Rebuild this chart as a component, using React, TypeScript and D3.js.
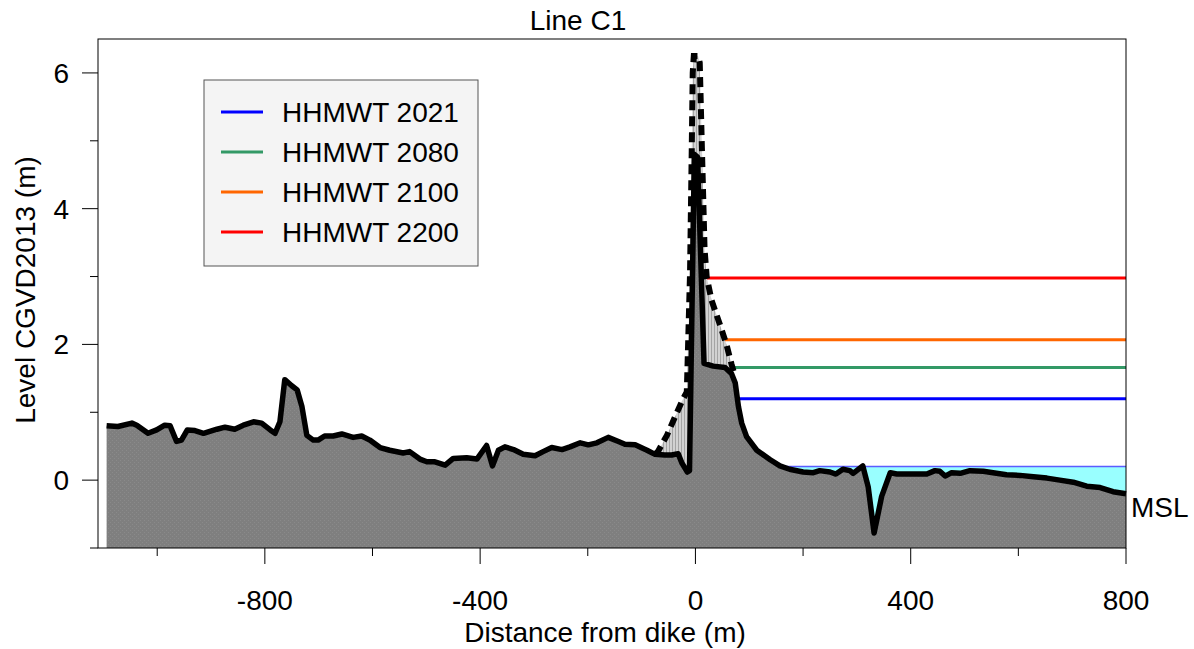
import React from "react";
import * as d3 from "d3";

// Ground profile along Line C1: [distance from dike (m), level (m CGVD2013)]
const profileExisting: [number, number][] = [
  [-1094, 0.8], [-1073, 0.79], [-1047, 0.84], [-1038, 0.81], [-1017, 0.69], [-1001, 0.74],
  [-986, 0.81], [-976, 0.8], [-964, 0.57], [-955, 0.59], [-944, 0.74], [-930, 0.73],
  [-914, 0.69], [-889, 0.75], [-874, 0.78], [-856, 0.75], [-840, 0.81], [-821, 0.86],
  [-806, 0.84], [-790, 0.74], [-781, 0.69], [-772, 0.86], [-763, 1.48], [-750, 1.39],
  [-740, 1.33], [-731, 1.08], [-722, 0.66], [-710, 0.59], [-701, 0.59], [-689, 0.65],
  [-673, 0.65], [-657, 0.68], [-636, 0.63], [-620, 0.65], [-605, 0.59], [-586, 0.48],
  [-568, 0.44], [-543, 0.4], [-531, 0.42], [-512, 0.31], [-499, 0.27], [-484, 0.27],
  [-465, 0.22], [-450, 0.32], [-425, 0.33], [-406, 0.31], [-388, 0.51], [-377, 0.21],
  [-366, 0.44], [-354, 0.49], [-338, 0.45], [-320, 0.38], [-298, 0.36], [-283, 0.42],
  [-267, 0.48], [-248, 0.45], [-233, 0.49], [-214, 0.55], [-199, 0.52], [-183, 0.55],
  [-162, 0.63], [-143, 0.57], [-131, 0.53], [-112, 0.52], [-90, 0.44], [-75, 0.38],
  [-57, 0.37], [-44, 0.37], [-32, 0.39], [-25, 0.25], [-15, 0.12], [-11, 0.14],
  [-2, 4.8], [4, 4.76], [16, 1.72], [33, 1.68], [55, 1.66], [67, 1.57], [74, 1.43],
  [80, 1.08], [86, 0.84], [95, 0.64], [114, 0.44], [139, 0.3], [157, 0.21], [175, 0.16],
  [200, 0.12], [219, 0.11], [231, 0.14], [250, 0.12], [261, 0.09], [274, 0.16],
  [287, 0.14], [293, 0.1], [311, 0.21], [321, -0.1], [332, -0.78], [346, -0.24],
  [362, 0.11], [374, 0.09], [393, 0.09], [430, 0.09], [445, 0.14], [454, 0.13],
  [464, 0.06], [476, 0.11], [492, 0.1], [510, 0.14], [535, 0.13], [553, 0.11],
  [578, 0.08], [603, 0.07], [628, 0.05], [653, 0.03], [677, 0.0], [702, -0.03],
  [727, -0.09], [752, -0.11], [776, -0.17], [800, -0.2],
];

// Dike crest profile (dashed)
const profileDike: [number, number][] = [
  [-75, 0.38], [-69, 0.43], [-53, 0.66], [-38, 0.93], [-24, 1.18], [-16, 1.3],
  [-10, 3.05], [-7, 4.77], [-5, 6.0], [-3, 6.25], [5, 6.25], [8, 6.15], [12, 4.9],
  [17, 3.4], [21, 2.99], [30, 2.65], [46, 2.28], [58, 1.99], [67, 1.71], [71, 1.6],
];

// Water levels
const levelNames = ["HHMWT 2021", "HHMWT 2080", "HHMWT 2100", "HHMWT 2200"];
const levelValues = [1.2, 1.66, 2.07, 2.98];
const levelColors = ["#0000ff", "#339966", "#ff6600", "#ff0000"];
const mslLevel = 0.2;

const xMajorTicks = [-800, -400, 0, 400, 800];
const xMinorTicks = [-1000, -600, -200, 200, 600];
const yMajorTicks = [0, 2, 4, 6];
const yMinorTicks = [-1, 1, 3, 5];

const left = 98, right = 1126, top = 39, bottom = 548;
const x = d3.scaleLinear().domain([-1110, 800]).range([left, right]);
const y = d3.scaleLinear().domain([-1, 6.5]).range([bottom, top]);

function valueAt(p: [number, number][], d: number): number | null {
  if (d < p[0][0] || d > p[p.length - 1][0]) return null;
  for (let i = 1; i < p.length; i++) {
    if (d <= p[i][0]) {
      const [x0, y0] = p[i - 1];
      const [x1, y1] = p[i];
      return y0 + ((y1 - y0) * (d - x0)) / (x1 - x0);
    }
  }
  return null;
}

// First distance seaward of the crest where the ground drops below a level
function seawardCrossing(level: number): number {
  for (let d = 0; d <= 800; d += 0.1) {
    const a = valueAt(profileExisting, d) ?? -10;
    const b = valueAt(profileDike, d) ?? -10;
    if (Math.max(a, b) < level) return d;
  }
  return 800;
}

export default function App() {
  const groundArea = d3
    .area<[number, number]>()
    .x((d) => x(d[0]))
    .y0(y(-1))
    .y1((d) => y(d[1]));
  const line = d3
    .line<[number, number]>()
    .x((d) => x(d[0]))
    .y((d) => y(d[1]));

  const mslStart = seawardCrossing(mslLevel);
  const font = "Liberation Sans, Arial, sans-serif";
  const fs = 28;

  return (
    <svg
      width={1194}
      height={649}
      style={{ position: "absolute", left: 0, top: 0, background: "#fff" }}
      fontFamily={font}
    >
      <defs>
        <pattern id="groundTex" width={4} height={4} patternUnits="userSpaceOnUse">
          <rect width={4} height={4} fill="#7f7f7f" />
          <rect x={0} y={0} width={1} height={1} fill="#8a8a8a" />
          <rect x={2} y={2} width={1} height={1} fill="#8a8a8a" />
        </pattern>
        <pattern id="dikeTex" width={3} height={3} patternUnits="userSpaceOnUse">
          <rect width={3} height={3} fill="#d2d2d2" />
          <rect x={0} y={0} width={1} height={3} fill="#a4a4a4" />
        </pattern>
      </defs>

      {/* water below MSL */}
      <rect
        x={x(mslStart)}
        y={y(mslLevel)}
        width={x(800) - x(mslStart)}
        height={y(-1) - y(mslLevel)}
        fill="#99ffff"
      />

      {/* dike fill, then ground fill */}
      <path d={groundArea(profileDike) ?? ""} fill="url(#dikeTex)" />
      <path d={groundArea(profileExisting) ?? ""} fill="url(#groundTex)" />

      {/* MSL line */}
      <line
        x1={x(mslStart)}
        x2={x(800)}
        y1={y(mslLevel)}
        y2={y(mslLevel)}
        stroke="#5c5cff"
        strokeWidth={1.5}
      />

      {/* water level lines */}
      {levelValues.map((v, i) => (
        <line
          key={levelNames[i]}
          x1={x(seawardCrossing(v))}
          x2={x(800)}
          y1={y(v)}
          y2={y(v)}
          stroke={levelColors[i]}
          strokeWidth={3}
        />
      ))}

      {/* profiles */}
      <path
        d={line(profileDike) ?? ""}
        fill="none"
        stroke="#000"
        strokeWidth={6}
        strokeDasharray="10,6"
      />
      <path
        d={line(profileExisting) ?? ""}
        fill="none"
        stroke="#000"
        strokeWidth={5.5}
        strokeLinejoin="round"
      />

      {/* frame */}
      <rect x={left} y={top} width={right - left} height={bottom - top} fill="none" stroke="#000" strokeWidth={1} />

      {/* y axis ticks */}
      {yMajorTicks.map((t) => (
        <g key={"ym" + t}>
          <line x1={left - 16} x2={left} y1={y(t)} y2={y(t)} stroke="#000" />
          <text x={left - 29} y={y(t) + 10} fontSize={fs} textAnchor="end">
            {t}
          </text>
        </g>
      ))}
      {yMinorTicks.map((t) => (
        <line key={"yn" + t} x1={left - 8} x2={left} y1={y(t)} y2={y(t)} stroke="#000" />
      ))}

      {/* x axis ticks */}
      {xMajorTicks.map((t) => (
        <g key={"xm" + t}>
          <line x1={x(t)} x2={x(t)} y1={bottom} y2={bottom + 16} stroke="#000" />
          <text x={x(t)} y={610} fontSize={fs} textAnchor="middle">
            {t}
          </text>
        </g>
      ))}
      {xMinorTicks.map((t) => (
        <line key={"xn" + t} x1={x(t)} x2={x(t)} y1={bottom} y2={bottom + 8} stroke="#000" />
      ))}

      {/* labels */}
      <text x={578} y={30} fontSize={fs} textAnchor="middle">
        Line C1
      </text>
      <text x={605} y={642} fontSize={fs} textAnchor="middle">
        Distance from dike (m)
      </text>
      <text transform="translate(35,290) rotate(-90)" fontSize={fs} textAnchor="middle">
        Level CGVD2013 (m)
      </text>
      <text x={1131} y={517} fontSize={fs}>
        MSL
      </text>

      {/* legend */}
      <rect x={204} y={80} width={274} height={186} fill="#f4f4f4" stroke="#555" strokeWidth={1} />
      {levelNames.map((name, i) => (
        <g key={"lg" + name} transform={`translate(0, ${112 + i * 40})`}>
          <line x1={221} x2={263} y1={0} y2={0} stroke={levelColors[i]} strokeWidth={3} />
          <text x={282} y={10} fontSize={fs}>
            {name}
          </text>
        </g>
      ))}
    </svg>
  );
}
